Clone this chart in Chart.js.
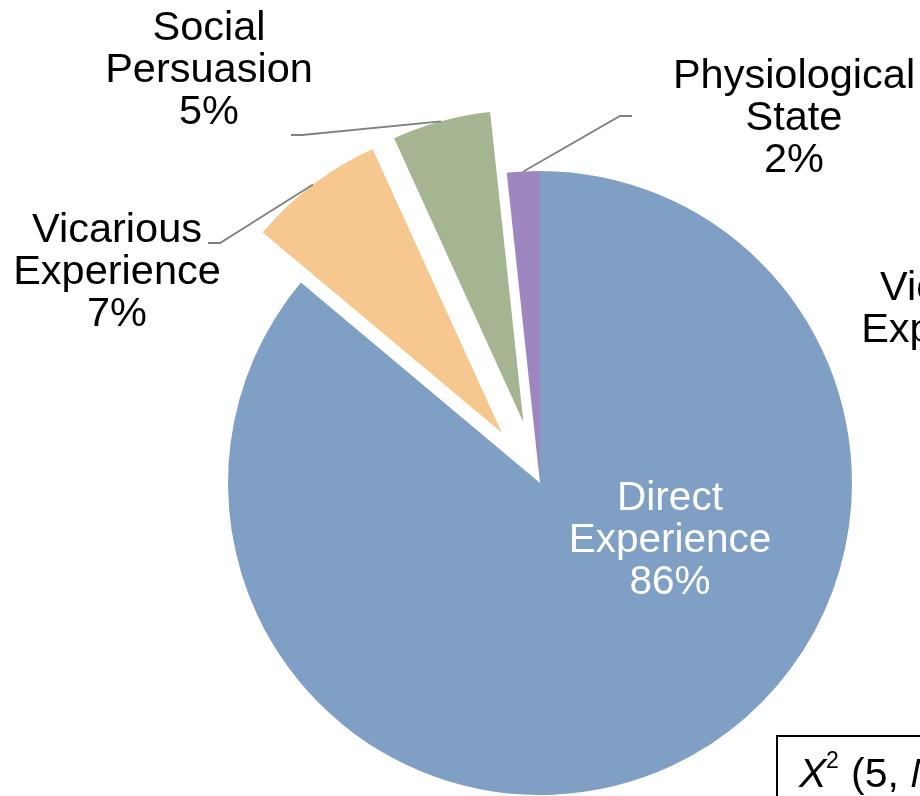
<!DOCTYPE html>
<html>
<head>
<meta charset="utf-8">
<script src="https://cdn.jsdelivr.net/npm/chart.js@4/dist/chart.umd.min.js"></script>
<style>
  html, body { margin: 0; padding: 0; background: #fff; }
  #wrap { width: 920px; height: 796px; position: relative; overflow: hidden; }
</style>
</head>
<body>
<div id="wrap"><canvas id="pie"></canvas></div>
<script>
// ========================
// DATA
// ========================
const categories = ["Direct Experience", "Vicarious Experience", "Social Persuasion", "Physiological State"];
const shares = [86.1, 7.1, 5.1, 1.7];   // % of responses

// ========================
// STYLE
// ========================
const COLORS = ["#7f9fc4", "#f6c890", "#a5b491", "#9e86c0"];
const EXPLODE = [0, 63, 63, 0];          // px pulled out of the pie
const FONT = '"Liberation Sans", Arial, Helvetica, sans-serif';
const LINE_H = 42;

// label placement (centre x, first baseline, colour, size, leader elbow)
const LABELS = [
    { x: 670, y: 510, color: "#fff", size: 40.5, inside: true },
    { x: 117, y: 242, color: "#000", size: 41.5, elbow: [220, 243], end: [208, 243] },
    { x: 209, y: 40,  color: "#000", size: 41.5, elbow: [302, 135], end: [291, 135] },
    { x: 794, y: 88,  color: "#000", size: 41.5, elbow: [620, 116], end: [632, 116] }
];

// =====================================================
// PLUGIN : slices tirées + étiquettes
// =====================================================
const explodePlugin = {
    id: "explode",
    beforeDatasetDraw(chart, args) {
        const ctx = chart.ctx;
        args.meta.data.forEach((arc, i) => {
            const mid = (arc.startAngle + arc.endAngle) / 2;
            ctx.save();
            ctx.translate(Math.cos(mid) * EXPLODE[i], Math.sin(mid) * EXPLODE[i]);
            arc.draw(ctx);
            ctx.restore();
        });
        return false;
    },
    afterDatasetsDraw(chart) {
        const ctx = chart.ctx;
        const arcs = chart.getDatasetMeta(0).data;

        arcs.forEach((arc, i) => {
            const L = LABELS[i];
            const mid = (arc.startAngle + arc.endAngle) / 2;

            // leader line from the middle of the outer edge
            if (!L.inside) {
                const r = arc.outerRadius + EXPLODE[i];
                const sx = arc.x + Math.cos(mid) * r;
                const sy = arc.y + Math.sin(mid) * r;
                ctx.save();
                ctx.strokeStyle = "#808080";
                ctx.lineWidth = 1.8;
                ctx.beginPath();
                ctx.moveTo(sx, sy);
                ctx.lineTo(L.elbow[0], L.elbow[1]);
                ctx.lineTo(L.end[0], L.end[1]);
                ctx.stroke();
                ctx.restore();
            }

            const lines = categories[i].split(" ");
            lines.push(Math.round(shares[i]) + "%");
            ctx.save();
            ctx.fillStyle = L.color;
            ctx.font = L.size + "px " + FONT;
            ctx.textAlign = "center";
            ctx.textBaseline = "alphabetic";
            lines.forEach((t, k) => ctx.fillText(t, L.x, L.y + k * LINE_H));
            ctx.restore();
        });

        // pieces of the neighbouring chart / stats box, cut by the frame
        ctx.save();
        ctx.fillStyle = "#000";
        ctx.font = "41.5px " + FONT;
        ctx.textAlign = "center";
        ctx.fillText("Vicarious", 965, 300);
        ctx.fillText("Experience", 965, 342);

        ctx.strokeStyle = "#000";
        ctx.lineWidth = 2;
        ctx.strokeRect(777, 736, 300, 120);

        ctx.textAlign = "left";
        ctx.font = "italic 41px " + FONT;
        ctx.fillText("X", 799, 787);
        ctx.font = "23px " + FONT;
        ctx.fillText("2", 826, 768);
        ctx.font = "41px " + FONT;
        ctx.fillText("(5,", 851, 787);
        const w = ctx.measureText("(5, ").width;
        ctx.font = "italic 41px " + FONT;
        ctx.fillText("N", 851 + w, 787);
        ctx.restore();
    }
};

// =====================================================
// CHART
// =====================================================
window.onload = () => {
    new Chart(document.getElementById("pie"), {
        type: "pie",
        data: {
            labels: categories,
            datasets: [{
                data: shares,
                backgroundColor: COLORS,
                borderWidth: 0
            }]
        },
        options: {
            responsive: true,
            maintainAspectRatio: false,
            animation: false,
            radius: 312,
            layout: { padding: { left: 160, top: 170, right: 0, bottom: 0 } },
            plugins: {
                legend: { display: false },
                tooltip: { enabled: false }
            }
        },
        plugins: [explodePlugin]
    });
};
</script>
</body>
</html>
